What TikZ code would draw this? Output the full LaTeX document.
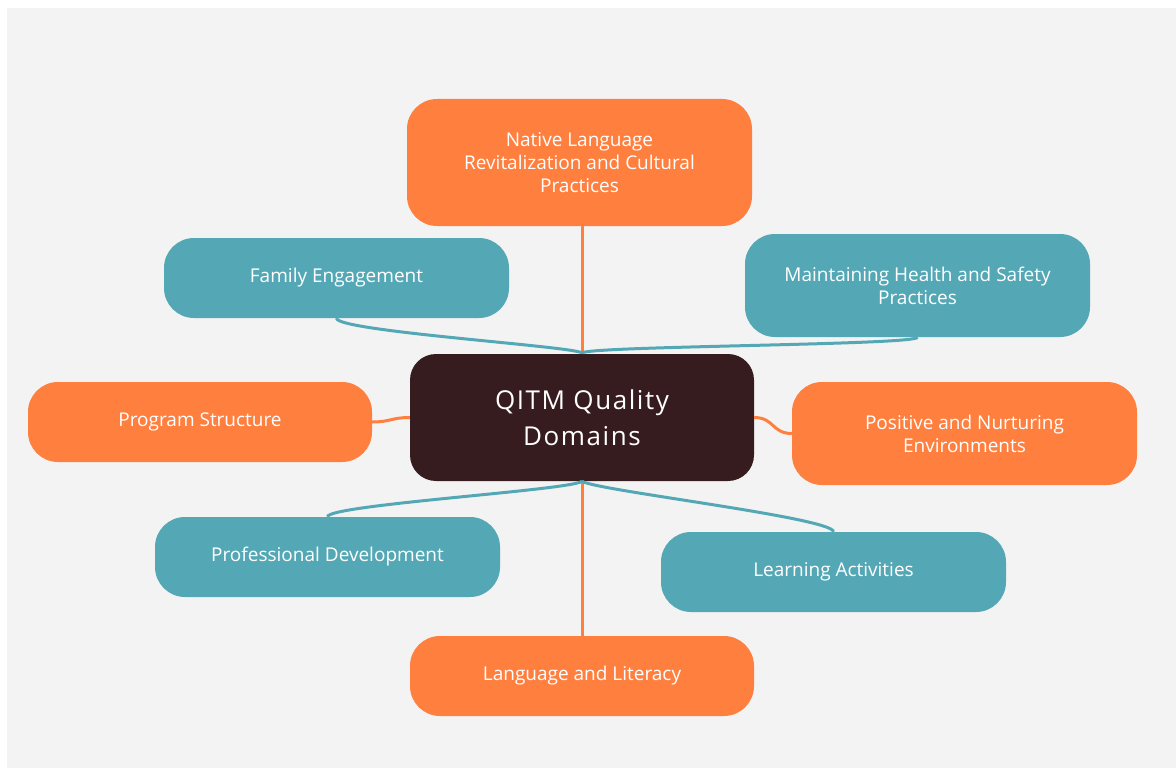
\documentclass[tikz,border=0pt]{standalone}
\usepackage{fontspec}
\setmainfont{Open Sans}
\newfontfamily\hubfont{Open Sans}[LetterSpace=6]
\usepackage{xcolor}
\usepackage{tikz}
\usetikzlibrary{positioning}

\definecolor{qorange}{HTML}{FF7F3F}
\definecolor{qteal}{HTML}{54A8B5}
\definecolor{qdark}{HTML}{361C1E}
\definecolor{qpaper}{HTML}{F3F3F3}

\tikzset{
  qbox/.style={rounded corners=30pt, minimum width=345pt, align=center,
    text=white, font=\fontsize{19}{23}\selectfont, inner sep=0pt},
  orangebox/.style={qbox, fill=qorange},
  tealbox/.style={qbox, fill=qteal},
  hub/.style={qbox, fill=qdark, rounded corners=26pt,
    font=\hubfont\fontsize{26}{36}\selectfont},
  olink/.style={draw=qorange, line width=3pt},
  tlink/.style={draw=qteal, line width=3pt}
}

\begin{document}
\begin{tikzpicture}[x=1pt,y=-1pt]
  \useasboundingbox (0,0) rectangle (1176,768);
  \fill[qpaper] (7,8) rectangle (1176,768);
  % centre
  \node[hub, minimum width=344pt, minimum height=127pt] (ctr) at (582,417.5)
    {QITM Quality\\Domains};
  % domains
  \node[orangebox, minimum height=127pt] (native) at (579.5,162.5)
    {Native Language\\Revitalization and Cultural\\Practices};
  \node[tealbox, minimum height=80pt] (family) at (336.5,278) {Family Engagement};
  \node[tealbox, minimum height=103pt] (health) at (917.5,285.5)
    {Maintaining Health and Safety\\Practices};
  \node[orangebox, minimum width=344pt, minimum height=80pt] (program) at (200,422)
    {Program Structure};
  \node[orangebox, minimum height=103pt] (positive) at (964.5,433.5)
    {Positive and Nurturing\\Environments};
  \node[tealbox, minimum height=80pt] (profdev) at (327.5,557)
    {Professional Development};
  \node[tealbox, minimum height=80pt] (learning) at (833.5,572)
    {Learning Activities};
  \node[orangebox, minimum width=344pt, minimum height=80pt] (literacy) at (582,676)
    {Language and Literacy};
  % links
  \draw[olink] (native.south -| ctr.north) -- (ctr.north);
  \draw[olink] (ctr.south) -- (literacy.north -| ctr.south);
  \draw[olink] (program.east) .. controls ([xshift=18pt]program.east)
    and ([xshift=-18pt]ctr.west) .. (ctr.west);
  \draw[olink] (ctr.east) .. controls ([xshift=20pt]ctr.east)
    and ([xshift=-20pt]positive.west) .. (positive.west);
  \draw[tlink] (family.south) .. controls ([yshift=-13pt]family.south)
    and ([xshift=-14pt,yshift=8pt]ctr.north) .. ([yshift=1pt]ctr.north);
  \draw[tlink] (health.south) .. controls ([yshift=-8pt]health.south)
    and ([xshift=14pt,yshift=8pt]ctr.north) .. ([yshift=1pt]ctr.north);
  \draw[tlink] (ctr.south) .. controls ([xshift=-10pt,yshift=-9pt]ctr.south)
    and ([yshift=12pt]profdev.north) .. (profdev.north);
  \draw[tlink] (ctr.south) .. controls ([xshift=12pt,yshift=-9pt]ctr.south)
    and ([yshift=14pt]learning.north) .. (learning.north);
\end{tikzpicture}
\end{document}
